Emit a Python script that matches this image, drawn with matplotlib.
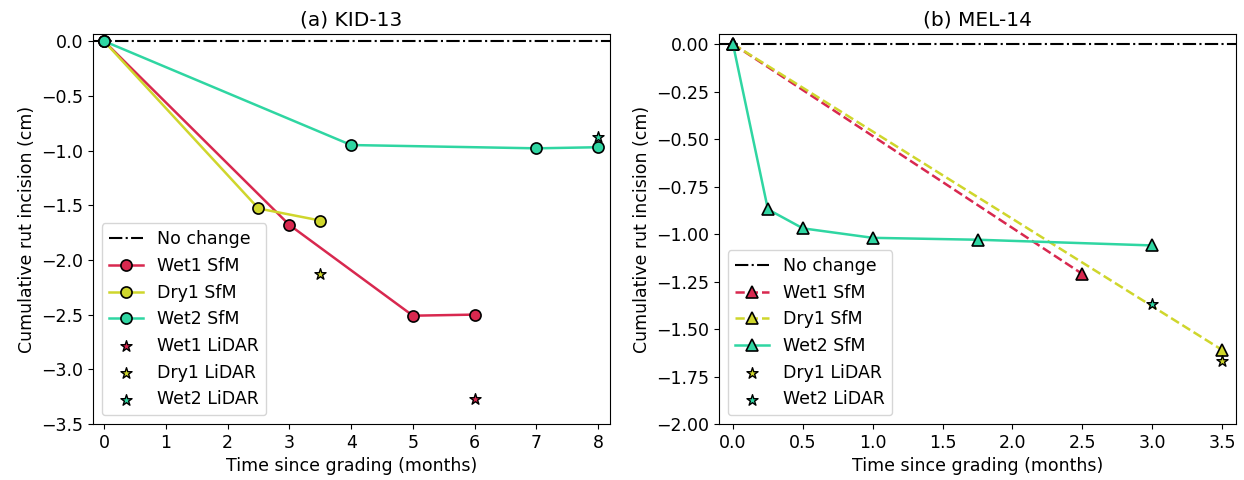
import matplotlib
matplotlib.use("Agg")
import matplotlib.pyplot as plt

c_wet1 = "#d8284f"
c_dry1 = "#cfd62c"
c_wet2 = "#2fd6a2"

# (a) KID-13
a_wet1_t = [0, 3, 5, 6]
a_wet1_v = [0, -1.68, -2.51, -2.50]
a_dry1_t = [0, 2.5, 3.5]
a_dry1_v = [0, -1.53, -1.64]
a_wet2_t = [0, 4, 7, 8]
a_wet2_v = [0, -0.95, -0.98, -0.97]
a_lidar_wet1 = ([6], [-3.27])
a_lidar_dry1 = ([3.5], [-2.13])
a_lidar_wet2 = ([8], [-0.88])

# (b) MEL-14
b_wet1_t = [0, 2.5]
b_wet1_v = [0, -1.21]
b_dry1_t = [0, 3.5]
b_dry1_v = [0, -1.61]
b_wet2_t = [0, 0.25, 0.5, 1.0, 1.75, 3.0]
b_wet2_v = [0, -0.87, -0.97, -1.02, -1.03, -1.06]
b_lidar_dry1 = ([3.5], [-1.67])
b_lidar_wet2 = ([3.0], [-1.37])

plt.rcParams["font.size"] = 12.5
fig = plt.figure(figsize=(12.44, 4.8), dpi=100)
ax1 = fig.add_axes([93/1244, 1-424/480, (610-93)/1244, (424-34)/480])
ax2 = fig.add_axes([719/1244, 1-424/480, (1236-719)/1244, (424-34)/480])

# left panel
ax1.axhline(0, color="black", ls="-.", lw=1.5, label="No change")
mk = dict(marker="o", markersize=8, markeredgecolor="black", markeredgewidth=1.2, lw=1.8)
ax1.plot(a_wet1_t, a_wet1_v, color=c_wet1, markerfacecolor=c_wet1, label="Wet1 SfM", **mk)
ax1.plot(a_dry1_t, a_dry1_v, color=c_dry1, markerfacecolor=c_dry1, label="Dry1 SfM", **mk)
ax1.plot(a_wet2_t, a_wet2_v, color=c_wet2, markerfacecolor=c_wet2, label="Wet2 SfM", **mk)
st = dict(marker="*", s=70, edgecolors="black", linewidths=1.0, zorder=3)
ax1.scatter(*a_lidar_wet1, color=c_wet1, label="Wet1 LiDAR", **st)
ax1.scatter(*a_lidar_dry1, color=c_dry1, label="Dry1 LiDAR", **st)
ax1.scatter(*a_lidar_wet2, color=c_wet2, label="Wet2 LiDAR", **st)
ax1.set_xlim(-0.178, 8.19)
ax1.set_ylim(-3.5, 0.065)
ax1.set_xticks(range(0, 9))
ax1.set_title("(a) KID-13", fontsize=14.5)
ax1.set_xlabel("Time since grading (months)")
ax1.set_ylabel("Cumulative rut incision (cm)")
ax1.legend(loc="lower left")

# right panel
ax2.axhline(0, color="black", ls="-.", lw=1.5, label="No change")
tk = dict(marker="^", markersize=8, markeredgecolor="black", markeredgewidth=1.2, lw=1.8)
ax2.plot(b_wet1_t, b_wet1_v, color=c_wet1, markerfacecolor=c_wet1, ls="--", label="Wet1 SfM", **tk)
ax2.plot(b_dry1_t, b_dry1_v, color=c_dry1, markerfacecolor=c_dry1, ls="--", label="Dry1 SfM", **tk)
ax2.plot(b_wet2_t, b_wet2_v, color=c_wet2, markerfacecolor=c_wet2, label="Wet2 SfM", **tk)
ax2.scatter(*b_lidar_dry1, color=c_dry1, label="Dry1 LiDAR", **st)
ax2.scatter(*b_lidar_wet2, color=c_wet2, label="Wet2 LiDAR", **st)
ax2.set_xlim(-0.1, 3.6)
ax2.set_ylim(-2.0, 0.053)
ax2.set_yticks([0, -0.25, -0.5, -0.75, -1.0, -1.25, -1.5, -1.75, -2.0])
ax2.set_title("(b) MEL-14", fontsize=14.5)
ax2.set_xlabel("Time since grading (months)")
ax2.set_ylabel("Cumulative rut incision (cm)")
ax2.legend(loc="lower left")

fig.savefig("out.png", dpi=100)
